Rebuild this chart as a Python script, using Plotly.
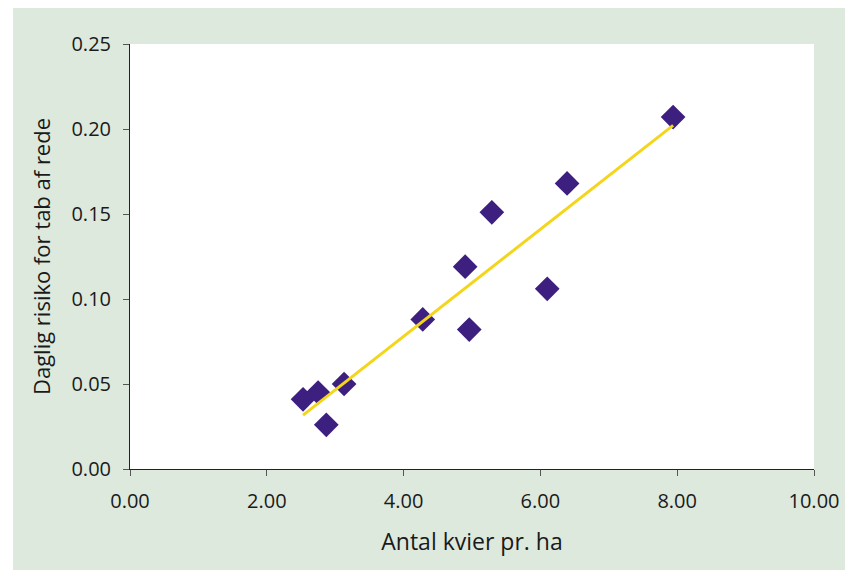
import numpy as np
import plotly.graph_objects as go

# Data
kvier_pr_ha = [2.53, 2.75, 2.87, 3.13, 4.28, 4.90, 4.96, 5.29, 6.10, 6.39, 7.94]
daglig_risiko = [0.041, 0.045, 0.026, 0.050, 0.088, 0.119, 0.082, 0.151, 0.106, 0.168, 0.207]
x_ticks = [0, 2, 4, 6, 8, 10]
y_ticks = [0, 0.05, 0.10, 0.15, 0.20, 0.25]

x_title = "Antal kvier pr. ha"
y_title = "Daglig risiko for tab af rede"

# Linear trend line (least squares) over data range
slope, intercept = np.polyfit(kvier_pr_ha, daglig_risiko, 1)
trend_x = [min(kvier_pr_ha), max(kvier_pr_ha)]
trend_y = [slope * v + intercept for v in trend_x]

FONT = "Open Sans"
GREEN = "#dde9dd"

fig = go.Figure()
fig.add_trace(go.Scatter(
    x=kvier_pr_ha, y=daglig_risiko, mode="markers",
    marker=dict(symbol="diamond", size=19, color="#3d1f80", line=dict(width=0)),
    showlegend=False, hoverinfo="x+y",
))
fig.add_trace(go.Scatter(
    x=trend_x, y=trend_y, mode="lines",
    line=dict(color="#f3d61c", width=3),
    showlegend=False, hoverinfo="skip",
))

W, H = 845, 562
ml, mr, mt, mb = 122, 39, 36, 101
pw, ph = W - ml - mr, H - mt - mb

# thin white strip on the left (outside the green panel)
fig.add_shape(type="rect", xref="paper", yref="paper",
              x0=-ml / pw, x1=(5 - ml) / pw, y0=-mb / ph, y1=1 + mt / ph,
              fillcolor="white", line=dict(width=0), layer="below")

fig.update_layout(
    width=W, height=H,
    margin=dict(l=ml, r=mr, t=mt, b=mb, pad=0),
    paper_bgcolor=GREEN, plot_bgcolor="white",
    font=dict(family=FONT, size=20, color="#1a1a1a"),
    xaxis=dict(
        range=[0, 10], tickvals=x_ticks, tickformat=".2f",
        showgrid=False, zeroline=False, showline=True, linecolor="#222", linewidth=1,
        ticks="outside", ticklen=6, tickcolor="#555", tickwidth=1,
        title=dict(text=x_title, font=dict(size=23), standoff=20),
        ticklabelstandoff=8,
    ),
    yaxis=dict(
        range=[0, 0.25], tickvals=y_ticks, tickformat=".2f",
        showgrid=False, zeroline=False, showline=True, linecolor="#222", linewidth=1,
        ticks="outside", ticklen=6, tickcolor="#555", tickwidth=1,
        title=dict(text=y_title, font=dict(size=22), standoff=14),
        ticklabelstandoff=8,
    ),
)

fig.write_html("out.html")
